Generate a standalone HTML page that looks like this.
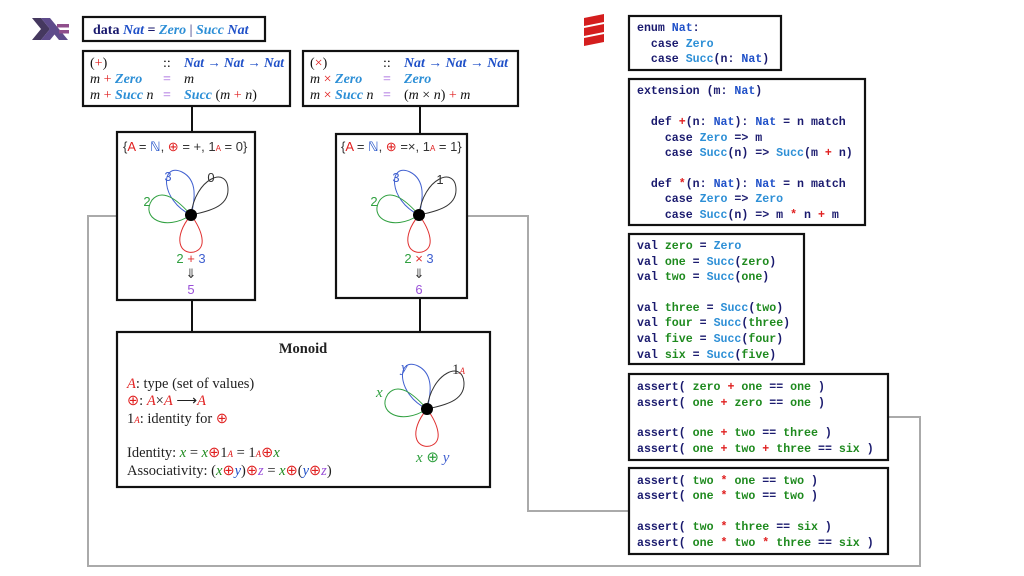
<!DOCTYPE html>
<html><head><meta charset="utf-8"><style>
body{margin:0;width:1024px;height:576px;background:#fff;overflow:hidden}
svg{display:block}
.m{font-family:"Liberation Mono",monospace;font-size:11.6px;font-weight:bold;fill:#1a1a6e}
.s{font-family:"Liberation Serif",serif;font-size:14px;fill:#111}
.i{font-style:italic}
.k{fill:#1a1a6e}.b{fill:#1f50c8}.lb{fill:#2d8fd6}.g{fill:#1e8a1e}.r{fill:#e02020}.p{fill:#9a50d8}
</style></head><body>
<svg width="1024" height="576" viewBox="0 0 1024 576" xmlns="http://www.w3.org/2000/svg">
<defs>
<marker id="ah" markerWidth="6" markerHeight="6" refX="5" refY="3" orient="auto"><path d="M0,0 L5,3 L0,6" fill="none" stroke="context-stroke" stroke-width="1"/></marker>
</defs>
<g fill="none" stroke="#aaa" stroke-width="2">
<polyline points="117,216 88,216 88,566 920,566 920,417 888,417"/>
<polyline points="467,216 528,216 528,511 629,511"/>
</g>
<g stroke="#111" stroke-width="2">
<line x1="192" y1="106" x2="192" y2="132"/><line x1="192" y1="300" x2="192" y2="332"/>
<line x1="420" y1="106" x2="420" y2="134"/><line x1="420" y1="298" x2="420" y2="332"/>
</g>
<g fill="#fff" stroke="#111" stroke-width="2.2">
<rect x="83" y="17" width="182" height="24"/>
<rect x="83" y="51" width="207" height="55"/>
<rect x="303" y="51" width="215" height="55"/>
<rect x="117" y="132" width="138" height="168"/>
<rect x="336" y="134" width="131" height="164"/>
<rect x="117" y="332" width="373" height="155"/>
<rect x="629" y="16" width="152" height="54"/>
<rect x="629" y="79" width="236" height="146"/>
<rect x="629" y="234" width="175" height="130"/>
<rect x="629" y="374" width="259" height="86"/>
<rect x="629" y="468" width="259" height="86"/>
</g>
<polygon points="32,18 41,18 50,29 41,40 32,40 41,29" fill="#45385f"/>
<polygon points="41,18 50,18 68,40 59,40 54.5,34.5 50,40 41,40 50,29" fill="#5e4b8b"/>
<rect x="57" y="24" width="12" height="3.5" fill="#8f4e8b"/><rect x="59" y="30" width="10" height="3.5" fill="#8f4e8b"/>
<g fill="#d41e1e"><polygon points="584,18 604,14 604,22 584,26"/><polygon points="584,28 604,24 604,32 584,36"/><polygon points="584,38 604,34 604,42 584,46"/></g>

<text x="93" y="34" class="s" style="font-weight:bold"><tspan class="k">data </tspan><tspan class="b i">Nat</tspan><tspan class="k"> = </tspan><tspan class="lb i">Zero</tspan><tspan class="k" style="font-weight:normal"> | </tspan><tspan class="lb i">Succ</tspan><tspan class="b i"> Nat</tspan></text>
<g class="s">
<text x="90" y="67"><tspan>(</tspan><tspan class="r">+</tspan><tspan>)</tspan></text>
<text x="163" y="67">::</text>
<text x="184" y="67" class="b i" style="font-weight:bold" textLength="100" lengthAdjust="spacingAndGlyphs">Nat → Nat → Nat</text>
<text x="90" y="83" class="i">m <tspan class="r" style="font-style:normal">+</tspan> <tspan class="lb" style="font-weight:bold">Zero</tspan></text>
<text x="163" y="83" class="p">=</text><text x="184" y="83" class="i">m</text>
<text x="90" y="99" class="i">m <tspan class="r" style="font-style:normal">+</tspan> <tspan class="lb" style="font-weight:bold">Succ</tspan> n</text>
<text x="163" y="99" class="p">=</text><text x="184" y="99"><tspan class="lb i" style="font-weight:bold">Succ</tspan> (<tspan class="i">m</tspan> <tspan class="r">+</tspan> <tspan class="i">n</tspan>)</text>

<text x="310" y="67">(<tspan class="r">×</tspan>)</text>
<text x="383" y="67">::</text>
<text x="404" y="67" class="b i" style="font-weight:bold" textLength="104" lengthAdjust="spacingAndGlyphs">Nat → Nat → Nat</text>
<text x="310" y="83" class="i">m <tspan class="r" style="font-style:normal">×</tspan> <tspan class="lb" style="font-weight:bold">Zero</tspan></text>
<text x="383" y="83" class="p">=</text><text x="404" y="83" class="lb i" style="font-weight:bold">Zero</text>
<text x="310" y="99" class="i">m <tspan class="r" style="font-style:normal">×</tspan> <tspan class="lb" style="font-weight:bold">Succ</tspan> n</text>
<text x="383" y="99" class="p">=</text><text x="404" y="99">(<tspan class="i">m</tspan> × <tspan class="i">n</tspan>) <tspan class="r">+</tspan> <tspan class="i">m</tspan></text>
</g>

<g style="font-family:'Liberation Sans',sans-serif;font-size:13px" fill="#333">
<text x="123" y="151">{<tspan class="r">A</tspan> = <tspan class="b">ℕ</tspan>, <tspan class="r">⊕</tspan> = +, 1<tspan class="r" font-size="8">A</tspan> = 0}</text>
<text x="341" y="151">{<tspan class="r">A</tspan> = <tspan class="b">ℕ</tspan>, <tspan class="r">⊕</tspan> =×, 1<tspan class="r" font-size="8">A</tspan> = 1}</text>
</g>
<g id="flower" fill="none" stroke-width="1">
<path d="M191,215 C160,200 160,162 182,172 C198,180 195,200 191,215" stroke="#4060d0" marker-end="url(#ah)"/>
<path d="M191,215 C195,178 228,165 228,190 C228,208 205,212 191,215" stroke="#333" marker-end="url(#ah)"/>
<path d="M191,215 C165,232 140,218 152,200 C164,186 182,205 191,215" stroke="#30a040" marker-end="url(#ah)"/>
<path d="M191,215 C172,238 180,255 194,252 C208,248 202,230 191,215" stroke="#e03030" marker-end="url(#ah)"/>
</g>
<circle cx="191" cy="215" r="6" fill="#000"/>
<use href="#flower" x="228" y="0"/>
<circle cx="419" cy="215" r="6" fill="#000"/>
<g style="font-family:'Liberation Sans',sans-serif;font-size:13px" text-anchor="middle">
<text x="168" y="181" fill="#4060d0">3</text><text x="211" y="182" fill="#333">0</text><text x="147" y="206" fill="#30a040">2</text>
<text x="191" y="263"><tspan fill="#30a040">2</tspan><tspan fill="#e03030"> + </tspan><tspan fill="#4060d0">3</tspan></text>
<text x="191" y="278" fill="#333">⇓</text><text x="191" y="294" fill="#9a50d8">5</text>
<text x="396" y="182" fill="#4060d0">3</text><text x="440" y="184" fill="#333">1</text><text x="374" y="206" fill="#30a040">2</text>
<text x="419" y="263"><tspan fill="#30a040">2</tspan><tspan fill="#e03030"> × </tspan><tspan fill="#4060d0">3</tspan></text>
<text x="419" y="278" fill="#333">⇓</text><text x="419" y="294" fill="#9a50d8">6</text>
</g>

<g style="font-family:'Liberation Serif',serif;font-size:14.5px" fill="#222">
<text x="303" y="353" text-anchor="middle" font-weight="bold">Monoid</text>
<text x="127" y="388"><tspan class="r i">A</tspan>: type (set of values)</text>
<text x="127" y="405"><tspan class="r">⊕</tspan>: <tspan class="r i">A</tspan>×<tspan class="r i">A</tspan> ⟶<tspan class="r i">A</tspan></text>
<text x="127" y="423">1<tspan class="r i" font-size="9">A</tspan>: identity for <tspan class="r">⊕</tspan></text>
<text x="127" y="457">Identity:  <tspan class="g i">x</tspan> = <tspan class="g i">x</tspan><tspan class="r">⊕</tspan>1<tspan class="r i" font-size="9">A</tspan> = 1<tspan class="r i" font-size="9">A</tspan><tspan class="r">⊕</tspan><tspan class="g i">x</tspan></text>
<text x="127" y="475">Associativity:  (<tspan class="g i">x</tspan><tspan class="r">⊕</tspan><tspan class="b i">y</tspan>)<tspan class="r">⊕</tspan><tspan class="p i">z</tspan> = <tspan class="g i">x</tspan><tspan class="r">⊕</tspan>(<tspan class="b i">y</tspan><tspan class="r">⊕</tspan><tspan class="p i">z</tspan>)</text>
</g>
<use href="#flower" x="236" y="194"/>
<circle cx="427" cy="409" r="6" fill="#000"/>
<g style="font-family:'Liberation Serif',serif;font-size:15px;font-style:italic">
<text x="401" y="372" fill="#4060d0">y</text><text x="452" y="374" fill="#333" style="font-style:normal">1<tspan fill="#e03030" font-size="9" font-style="italic">A</tspan></text>
<text x="376" y="397" fill="#30a040">x</text>
<text x="416" y="462" fill="#30a040">x <tspan fill="#30a040" style="font-style:normal">⊕</tspan> <tspan fill="#4060d0">y</tspan></text>
</g>

<g class="m">
<text x="637" y="31">enum <tspan class="b">Nat</tspan>:</text>
<text x="637" y="47" xml:space="preserve">  case <tspan class="lb">Zero</tspan></text>
<text x="637" y="62" xml:space="preserve">  case <tspan class="lb">Succ</tspan>(n: <tspan class="b">Nat</tspan>)</text>

<text x="637" y="94">extension (m: <tspan class="b">Nat</tspan>)</text>
<text x="637" y="125" xml:space="preserve">  def <tspan class="r">+</tspan>(n: <tspan class="b">Nat</tspan>): <tspan class="b">Nat</tspan> = n match</text>
<text x="637" y="141" xml:space="preserve">    case <tspan class="lb">Zero</tspan> =&gt; m</text>
<text x="637" y="156" xml:space="preserve">    case <tspan class="lb">Succ</tspan>(n) =&gt; <tspan class="lb">Succ</tspan>(m <tspan class="r">+</tspan> n)</text>
<text x="637" y="187" xml:space="preserve">  def <tspan class="r">*</tspan>(n: <tspan class="b">Nat</tspan>): <tspan class="b">Nat</tspan> = n match</text>
<text x="637" y="202" xml:space="preserve">    case <tspan class="lb">Zero</tspan> =&gt; <tspan class="lb">Zero</tspan></text>
<text x="637" y="218" xml:space="preserve">    case <tspan class="lb">Succ</tspan>(n) =&gt; m <tspan class="r">*</tspan> n <tspan class="r">+</tspan> m</text>

<text x="637" y="249">val <tspan class="g">zero</tspan> = <tspan class="lb">Zero</tspan></text>
<text x="637" y="265">val <tspan class="g">one</tspan> = <tspan class="lb">Succ</tspan>(<tspan class="g">zero</tspan>)</text>
<text x="637" y="280">val <tspan class="g">two</tspan> = <tspan class="lb">Succ</tspan>(<tspan class="g">one</tspan>)</text>
<text x="637" y="311">val <tspan class="g">three</tspan> = <tspan class="lb">Succ</tspan>(<tspan class="g">two</tspan>)</text>
<text x="637" y="326">val <tspan class="g">four</tspan> = <tspan class="lb">Succ</tspan>(<tspan class="g">three</tspan>)</text>
<text x="637" y="342">val <tspan class="g">five</tspan> = <tspan class="lb">Succ</tspan>(<tspan class="g">four</tspan>)</text>
<text x="637" y="358">val <tspan class="g">six</tspan> = <tspan class="lb">Succ</tspan>(<tspan class="g">five</tspan>)</text>

<text x="637" y="390" xml:space="preserve">assert( <tspan class="g">zero</tspan> <tspan class="r">+</tspan> <tspan class="g">one</tspan> == <tspan class="g">one</tspan> )</text>
<text x="637" y="406" xml:space="preserve">assert( <tspan class="g">one</tspan> <tspan class="r">+</tspan> <tspan class="g">zero</tspan> == <tspan class="g">one</tspan> )</text>
<text x="637" y="436" xml:space="preserve">assert( <tspan class="g">one</tspan> <tspan class="r">+</tspan> <tspan class="g">two</tspan> == <tspan class="g">three</tspan> )</text>
<text x="637" y="452" xml:space="preserve">assert( <tspan class="g">one</tspan> <tspan class="r">+</tspan> <tspan class="g">two</tspan> <tspan class="r">+</tspan> <tspan class="g">three</tspan> == <tspan class="g">six</tspan> )</text>

<text x="637" y="484" xml:space="preserve">assert( <tspan class="g">two</tspan> <tspan class="r">*</tspan> <tspan class="g">one</tspan> == <tspan class="g">two</tspan> )</text>
<text x="637" y="499" xml:space="preserve">assert( <tspan class="g">one</tspan> <tspan class="r">*</tspan> <tspan class="g">two</tspan> == <tspan class="g">two</tspan> )</text>
<text x="637" y="530" xml:space="preserve">assert( <tspan class="g">two</tspan> <tspan class="r">*</tspan> <tspan class="g">three</tspan> == <tspan class="g">six</tspan> )</text>
<text x="637" y="546" xml:space="preserve">assert( <tspan class="g">one</tspan> <tspan class="r">*</tspan> <tspan class="g">two</tspan> <tspan class="r">*</tspan> <tspan class="g">three</tspan> == <tspan class="g">six</tspan> )</text>
</g>
</svg>
</body></html>
